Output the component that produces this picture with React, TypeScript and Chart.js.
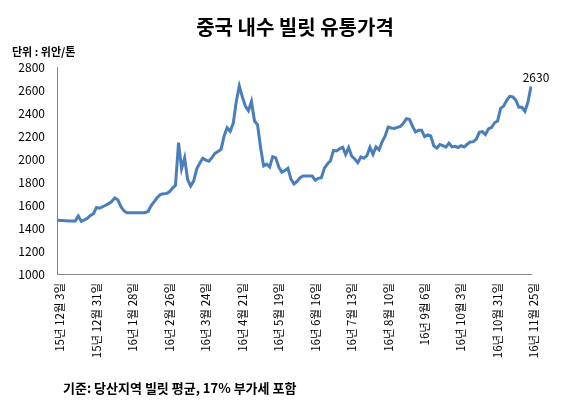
import React, { useEffect, useRef } from "react";
import { Chart, registerables } from "chart.js";

Chart.register(...registerables);

const TITLE = "중국 내수 빌릿 유통가격";
const UNIT = "단위 : 위안/톤";
const FOOTNOTE = "기준: 당산지역 빌릿 평균, 17% 부가세 포함";

const tickLabels = [
  "15년 12월 3일", "15년 12월 31일", "16년 1월 28일", "16년 2월 26일",
  "16년 3월 24일", "16년 4월 21일", "16년 5월 19일", "16년 6월 16일",
  "16년 7월 13일", "16년 8월 10일", "16년 9월 6일", "16년 10월 3일",
  "16년 10월 31일", "16년 11월 25일",
];
const labelEvery = 12;

const prices = [
  1470, 1465, 1465, 1462, 1460, 1460, 1460, 1504, 1458, 1470,
  1485, 1510, 1525, 1578, 1572, 1585, 1598, 1612, 1630, 1662,
  1645, 1587, 1550, 1533, 1533, 1533, 1533, 1533, 1533, 1533,
  1545, 1595, 1630, 1665, 1690, 1697, 1700, 1715, 1745, 1772,
  2142, 1915, 2010, 1820, 1765, 1810, 1915, 1965, 2006, 1990,
  1980, 2012, 2050, 2066, 2084, 2200, 2272, 2240, 2310, 2500,
  2635, 2540, 2460, 2420, 2500, 2330, 2298, 2100, 1940, 1955,
  1930, 2020, 2010, 1930, 1885, 1900, 1919, 1825, 1783, 1805,
  1837, 1852, 1852, 1852, 1852, 1815, 1832, 1838, 1920, 1957,
  1985, 2075, 2070, 2088, 2102, 2040, 2100, 2025, 2000, 1968,
  2018, 2006, 2030, 2102, 2040, 2105, 2080, 2150, 2200, 2278,
  2270, 2265, 2275, 2283, 2310, 2350, 2345, 2285, 2235, 2250,
  2250, 2195, 2210, 2200, 2115, 2094, 2126, 2116, 2103, 2138,
  2105, 2110, 2100, 2115, 2105, 2128, 2148, 2151, 2172, 2232,
  2238, 2212, 2262, 2274, 2315, 2330, 2440, 2460, 2510, 2545,
  2540, 2512, 2450, 2450, 2415, 2495, 2630,
];

const yMin = 1000;
const yMax = 2800;
const yStep = 200;

const FONT = "'Noto Sans CJK KR', 'Noto Sans', sans-serif";

export default function App() {
  const ref = useRef<HTMLCanvasElement | null>(null);

  useEffect(() => {
    if (!ref.current) return;
    const categories = prices.map((_, i) =>
      i % labelEvery === 0 ? tickLabels[i / labelEvery] ?? "" : ""
    );

    const textPlugin = {
      id: "texts",
      afterDraw(chart: any) {
        const ctx = chart.ctx as CanvasRenderingContext2D;
        ctx.save();
        ctx.fillStyle = "#000";
        ctx.textBaseline = "middle";
        ctx.textAlign = "center";
        ctx.font = `bold 20px ${FONT}`;
        ctx.fillText(TITLE, 295, 27);
        ctx.textAlign = "left";
        ctx.font = `bold 11px ${FONT}`;
        ctx.fillText(UNIT, 12, 52);
        ctx.font = `bold 13px ${FONT}`;
        ctx.fillText(FOOTNOTE, 63, 388);
        const meta = chart.getDatasetMeta(0);
        const last = meta.data[meta.data.length - 1];
        if (last) {
          ctx.textAlign = "center";
          ctx.textBaseline = "bottom";
          ctx.font = `12px ${FONT}`;
          ctx.fillText(String(prices[prices.length - 1]), last.x + 5, last.y - 3);
        }
        ctx.restore();
      },
    };

    const chart = new Chart(ref.current, {
      type: "line",
      data: {
        labels: categories,
        datasets: [
          {
            data: prices,
            borderColor: "#4A7EBB",
            borderWidth: 3,
            pointRadius: 0,
            tension: 0,
            fill: false,
          },
        ],
      },
      options: {
        animation: false,
        responsive: false,
        devicePixelRatio: 1,
        layout: { padding: { top: 67, right: 42, left: 0, bottom: 0 } },
        plugins: {
          legend: { display: false },
          tooltip: { enabled: false },
          title: { display: false },
        },
        scales: {
          x: {
            type: "category",
            offset: false,
            grid: { display: false, drawTicks: false },
            border: { display: true, color: "#868686", width: 1 },
            ticks: {
              autoSkip: false,
              maxRotation: 90,
              minRotation: 90,
              padding: 9,
              labelOffset: 3,
              color: "#000",
              font: { family: FONT, size: 11.5 },
            },
            afterFit: (s: any) => {
              s.height = 135;
            },
          },
          y: {
            min: yMin,
            max: yMax,
            grid: { display: false, drawTicks: false },
            border: { display: true, color: "#868686", width: 1 },
            ticks: {
              stepSize: yStep,
              padding: 12,
              color: "#000",
              font: { family: FONT, size: 12 },
              callback: (v: any) => String(v),
            },
            afterFit: (s: any) => {
              s.width = 57;
            },
          },
        },
      },
      plugins: [textPlugin],
    } as any);

    return () => chart.destroy();
  }, []);

  return (
    <div
      style={{
        position: "fixed",
        left: 0,
        top: 0,
        width: 573,
        height: 409,
        background: "#fff",
      }}
    >
      <canvas ref={ref} width={573} height={409} style={{ width: 573, height: 409 }} />
    </div>
  );
}
